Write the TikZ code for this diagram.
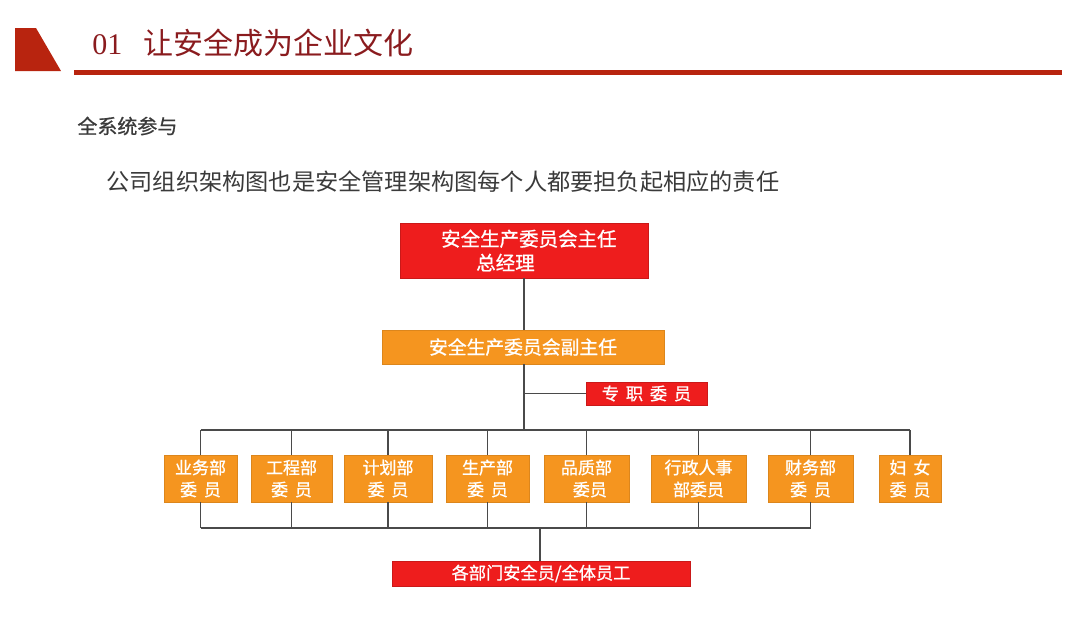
\documentclass[tikz,border=0pt]{standalone}
\usepackage{fontspec}
\setmainfont{Noto Sans CJK SC}
\newfontfamily\numfont{Liberation Serif}
\newfontfamily\medfont[FakeBold=0.9]{Noto Sans CJK SC}
\definecolor{deepred}{HTML}{B8240F}
\definecolor{titlered}{HTML}{8A1B1E}
\definecolor{boxred}{HTML}{EE1D1D}
\definecolor{boxorange}{HTML}{F5951F}
\definecolor{linegray}{HTML}{4A4A4A}
\definecolor{textgray}{HTML}{3A3A3A}
\tikzset{
  redbox/.style={fill=boxred, draw=boxred!85!black, line width=0.3pt, text=white, inner sep=0pt, align=center},
  orgbox/.style={fill=boxorange, draw=boxorange!90!black, line width=0.3pt, text=white, inner sep=0pt, align=center},
  dept/.style={orgbox, minimum height=23.5pt, font=\medfont\fontsize{8.5pt}{11pt}\selectfont},
  link/.style={draw=linegray, line width=0.6pt}
}
\newcommand\gap{\hspace{0.4em}}
\begin{document}
\begin{tikzpicture}[x=0.5pt,y=-0.5pt]
\useasboundingbox (0,0) rectangle (1080,622);
% heading
\fill[deepred] (15,28) -- (36,28) -- (61,71) -- (15,71) -- cycle;
\fill[deepred] (74,70) rectangle (1062,74.5);
\node[anchor=west, inner sep=0pt, text=titlered] (head) at (92,43)
  {\fontsize{15pt}{15pt}\selectfont{\numfont 01}\hspace{0.7em}让安全成为企业文化};
\node[anchor=west, inner sep=0pt, text=textgray] (sub) at (77,126)
  {\medfont\fontsize{10pt}{10pt}\selectfont 全系统参与};
\node[anchor=west, inner sep=0pt, text=textgray] (intro) at (106,182)
  {\fontsize{11.6pt}{12pt}\selectfont 公司组织架构图也是安全管理架构图每个人都要担负起相应的责任};
% boxes
\node[redbox, minimum width=124pt, minimum height=27.5pt, align=left,
  font=\medfont\fontsize{9.75pt}{12pt}\selectfont] (chief) at (524,250.5)
  {\hspace*{0.5em}安全生产委员会主任\\\hspace*{2.3em}总经理};
\node[orgbox, minimum width=141pt, minimum height=17pt,
  font=\medfont\fontsize{9.4pt}{10pt}\selectfont] (vice) at (523,347) {安全生产委员会副主任};
\node[redbox, minimum width=60.5pt, minimum height=11.5pt,
  font=\medfont\fontsize{8.6pt}{9pt}\selectfont] (staff) at (646.5,393.5) {专\gap 职\gap 委\gap 员};
\node[dept, minimum width=36.5pt] (d1) at (200.5,478.5) {业务部\\委\gap 员};
\node[dept, minimum width=40.5pt] (d2) at (291.5,478.5) {工程部\\委\gap 员};
\node[dept, minimum width=44pt] (d3) at (388,478.5) {计划部\\委\gap 员};
\node[dept, minimum width=41.5pt] (d4) at (487.5,478.5) {生产部\\委\gap 员};
\node[dept, minimum width=42.5pt] (d5) at (586.5,478.5) {品质部\\\hspace*{0.4em}委员};
\node[dept, minimum width=47.5pt] (d6) at (698.5,478.5) {行政人事\\部委员};
\node[dept, minimum width=42.5pt] (d7) at (810.5,478.5) {财务部\\委\gap 员};
\node[dept, minimum width=31pt] (d8) at (910,478.5) {妇\gap 女\\委\gap 员};
\node[redbox, minimum width=149pt, minimum height=12.5pt,
  font=\medfont\fontsize{8.6pt}{9pt}\selectfont] (all) at (541,573.5) {各部门安全员/全体员工};
% connectors
\coordinate (upbus) at (524,430);
\coordinate (lowbus) at (540,528);
\draw[link] (chief.south) -- (chief.south |- vice.north);
\draw[link] (chief.south |- vice.south) -- (upbus);
\draw[link] (upbus |- staff.west) -- (staff.west);
\draw[link] (d1.north |- upbus) -- (d8.north |- upbus);
\foreach \d in {d1,d2,d3,d4,d5,d6,d7,d8}
  \draw[link] (\d.north) -- (\d.north |- upbus);
\draw[link] (d1.south |- lowbus) -- (d7.south |- lowbus);
\foreach \d in {d1,d2,d3,d4,d5,d6,d7}
  \draw[link] (\d.south) -- (\d.south |- lowbus);
\draw[link] (lowbus) -- (lowbus |- all.north);
\end{tikzpicture}
\end{document}
